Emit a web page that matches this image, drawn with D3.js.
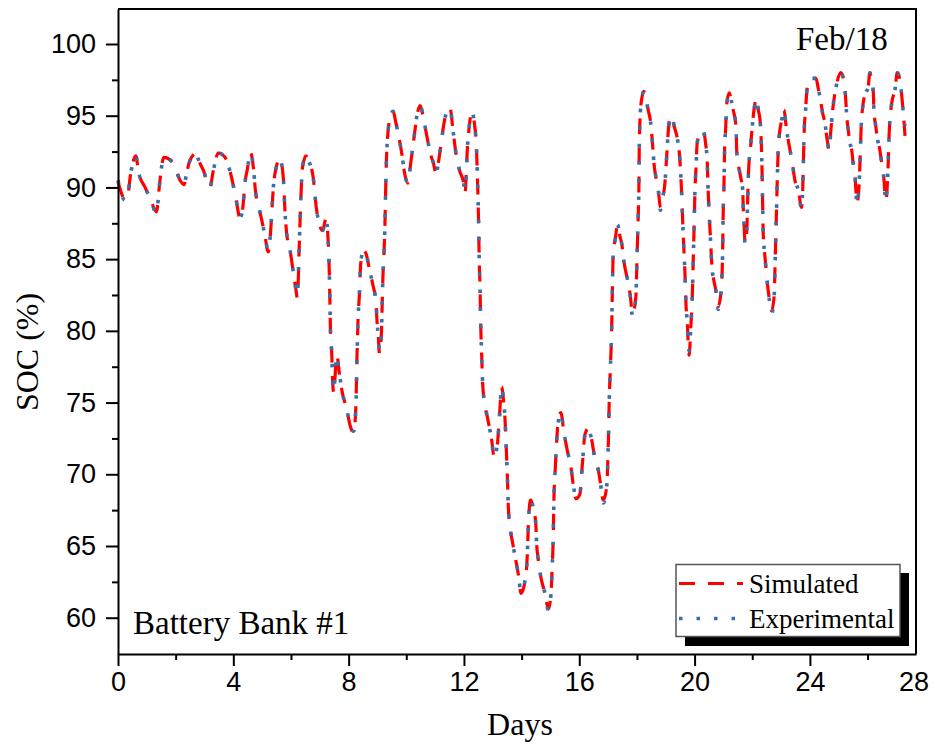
<!DOCTYPE html>
<html>
<head>
<meta charset="utf-8">
<script src="https://cdn.jsdelivr.net/npm/d3@7/dist/d3.min.js"></script>
<style>
  html, body { margin: 0; padding: 0; background: #fff; }
  svg { display: block; }
</style>
</head>
<body>
<svg id="chart" width="935" height="747"></svg>
<script>
// ---------------- DATA ----------------
const days = [0.00,0.24,0.32,0.45,0.62,0.71,0.94,1.12,1.34,1.42,1.49,1.59,1.92,2.15,2.29,2.39,2.50,2.72,2.78,2.96,3.19,3.30,3.48,3.71,3.95,4.10,4.24,4.33,4.41,4.48,4.60,4.71,4.76,4.90,5.02,5.10,5.21,5.29,5.36,5.41,5.62,5.68,5.74,5.79,5.85,5.97,6.08,6.17,6.22,6.29,6.34,6.40,6.52,6.60,6.77,6.89,7.10,7.21,7.29,7.33,7.35,7.37,7.41,7.45,7.48,7.59,7.68,7.79,7.93,8.05,8.18,8.25,8.29,8.33,8.37,8.42,8.51,8.60,8.72,8.83,8.95,8.99,9.03,9.07,9.14,9.17,9.19,9.23,9.26,9.29,9.32,9.43,9.54,9.64,9.84,9.95,10.05,10.16,10.27,10.37,10.48,10.58,10.72,10.86,10.94,11.03,11.17,11.31,11.41,11.52,11.62,11.72,11.86,11.98,12.04,12.08,12.11,12.17,12.28,12.36,12.44,12.46,12.49,12.51,12.53,12.56,12.58,12.61,12.65,12.73,12.81,12.87,12.96,13.04,13.16,13.23,13.31,13.36,13.42,13.48,13.51,13.54,13.60,13.69,13.80,13.88,13.98,14.12,14.20,14.23,14.31,14.40,14.49,14.52,14.58,14.67,14.81,14.93,15.02,15.06,15.10,15.12,15.17,15.22,15.25,15.36,15.47,15.58,15.71,15.79,15.89,16.02,16.10,16.20,16.31,16.43,16.55,16.66,16.74,16.83,16.95,17.01,17.04,17.08,17.12,17.15,17.18,17.24,17.33,17.41,17.47,17.56,17.68,17.76,17.85,17.96,18.01,18.05,18.07,18.08,18.11,18.16,18.24,18.30,18.39,18.47,18.55,18.59,18.66,18.74,18.82,18.87,18.97,19.03,19.09,19.15,19.20,19.30,19.41,19.49,19.55,19.59,19.63,19.67,19.70,19.75,19.78,19.81,19.87,19.92,19.95,19.98,20.01,20.05,20.09,20.16,20.28,20.38,20.44,20.47,20.51,20.56,20.60,20.67,20.74,20.82,20.92,20.97,20.99,21.02,21.04,21.08,21.11,21.20,21.28,21.34,21.44,21.46,21.51,21.60,21.67,21.69,21.72,21.75,21.81,21.84,21.87,21.94,21.99,22.06,22.15,22.21,22.27,22.30,22.34,22.36,22.38,22.44,22.50,22.58,22.67,22.76,22.79,22.82,22.85,22.87,22.90,22.96,23.02,23.10,23.19,23.31,23.39,23.48,23.60,23.71,23.75,23.77,23.80,23.85,23.91,24.03,24.21,24.29,24.35,24.44,24.52,24.60,24.67,24.72,24.79,24.87,24.95,25.07,25.16,25.22,25.25,25.27,25.33,25.39,25.45,25.50,25.56,25.60,25.63,25.70,25.74,25.77,25.85,25.94,26.02,26.08,26.14,26.20,26.22,26.29,26.35,26.41,26.49,26.57,26.60,26.63,26.68,26.72,26.75,26.84,26.95,27.03,27.12,27.16,27.20,27.24,27.30];

const simulated = [90.4,89.2,89.3,91.1,92.2,91.1,90.0,89.2,88.3,89.8,91.1,92.1,91.7,90.5,90.2,91.1,91.9,92.4,92.0,91.2,90.0,91.1,92.4,92.1,90.6,89.1,87.8,88.6,90.4,91.2,92.4,91.1,89.9,88.5,87.4,86.6,85.5,86.8,89.1,90.5,92.0,91.6,90.5,88.4,86.8,85.6,84.1,82.9,82.3,86.1,89.1,91.4,92.2,91.9,90.7,88.4,87.0,87.8,86.3,84.0,82.1,80.0,78.6,76.3,75.7,78.3,77.0,75.6,74.6,73.4,72.9,74.7,78.2,81.0,82.4,84.7,85.6,85.4,84.3,83.3,81.9,80.5,79.6,78.4,80.0,82.4,83.8,85.6,87.5,90.3,92.4,94.8,95.3,94.5,92.4,90.9,90.3,91.8,93.5,95.0,95.7,95.0,93.5,92.2,91.7,91.0,92.5,94.5,95.3,95.5,94.0,92.4,91.1,90.4,89.6,91.0,92.4,94.0,95.2,94.5,92.4,91.2,89.1,87.3,84.9,82.8,80.5,78.6,76.3,74.8,74.0,73.4,72.4,71.3,72.1,74.0,76.1,75.4,74.0,71.2,69.6,67.7,66.3,65.2,64.0,63.1,61.7,62.6,64.5,66.3,68.2,67.7,66.6,65.2,64.0,62.8,61.7,60.6,61.7,63.5,65.9,68.2,70.5,72.4,73.3,74.3,72.9,71.7,70.5,69.3,68.3,68.6,70.5,72.8,73.2,72.4,71.0,70.3,69.3,68.2,69.1,72.4,75.2,77.5,79.8,83.0,85.6,86.3,87.4,86.6,86.1,84.7,83.5,82.6,81.2,82.3,85.6,88.4,90.3,92.6,94.9,96.1,96.7,96.3,95.4,94.6,92.8,91.7,90.7,89.8,88.6,89.1,90.3,92.1,94.0,94.9,95.0,94.2,93.3,91.9,89.6,87.5,85.6,83.8,81.9,80.5,79.1,78.3,80.3,82.4,84.7,87.0,89.6,91.4,93.1,93.6,94.0,93.1,91.7,89.8,88.0,86.1,84.5,83.5,82.8,81.7,82.8,85.2,88.0,90.3,92.6,94.2,95.7,96.6,96.0,95.4,94.2,92.6,91.7,90.7,89.8,88.4,87.3,86.1,87.0,89.1,91.0,92.8,94.0,95.4,96.2,95.4,94.7,93.8,91.2,88.9,86.8,85.2,83.8,82.4,81.4,82.4,84.5,86.8,89.1,90.7,92.6,94.0,94.7,95.4,94.0,92.6,91.7,90.5,89.8,88.6,89.8,91.4,93.8,95.4,97.0,97.6,97.6,96.9,96.3,95.2,94.5,93.3,92.6,93.8,95.4,96.6,97.4,98.0,97.6,96.8,95.9,95.2,94.0,93.1,92.6,91.7,91.0,89.6,88.9,90.0,91.9,93.8,95.9,96.6,97.0,98.0,97.5,96.6,95.4,94.2,93.3,92.8,91.7,90.5,89.6,89.1,90.0,91.9,93.8,95.9,96.8,98.0,97.5,96.9,96.1,95.2,93.6];

const experimental = [90.5,89.1,89.3,91.1,92.2,91.1,90.0,89.2,88.2,89.8,91.1,92.1,91.7,90.5,90.2,91.1,91.9,92.4,92.0,91.2,90.0,91.1,92.4,92.1,90.6,89.1,87.9,88.6,90.4,91.2,92.4,91.1,89.9,88.5,87.4,86.6,85.6,86.8,89.1,90.5,92.0,91.6,90.5,88.4,86.8,85.6,84.1,82.9,82.5,86.1,89.1,91.4,92.2,91.9,90.7,88.4,87.0,87.8,86.3,84.0,82.1,80.0,78.6,76.3,75.8,78.3,77.0,75.6,74.6,73.4,73.0,74.7,78.2,81.0,82.4,84.7,85.6,85.4,84.3,83.3,81.9,80.5,79.6,78.6,80.0,82.4,83.8,85.6,87.5,90.3,92.4,94.8,95.3,94.5,92.4,90.9,90.3,91.8,93.5,95.0,95.7,95.0,93.5,92.2,91.7,91.0,92.5,94.5,95.3,95.5,94.0,92.4,91.1,90.4,89.8,91.0,92.4,94.0,95.2,94.5,92.4,91.2,89.1,87.3,84.9,82.8,80.5,78.6,76.3,74.8,74.0,73.4,72.4,71.2,72.1,74.0,76.1,75.4,74.0,71.2,69.6,67.7,66.3,65.2,64.0,63.1,61.8,62.6,64.5,66.3,68.2,67.7,66.6,65.2,64.0,62.8,61.7,60.5,61.7,63.5,65.9,68.2,70.5,72.4,73.3,74.3,72.9,71.7,70.5,69.3,68.4,68.6,70.5,72.8,73.2,72.4,71.0,70.3,69.3,68.0,69.1,72.4,75.2,77.5,79.8,83.0,85.6,86.3,87.4,86.6,86.1,84.7,83.5,82.6,81.0,82.3,85.6,88.4,90.3,92.6,94.9,96.1,96.7,96.3,95.4,94.6,92.8,91.7,90.7,89.8,88.4,89.1,90.3,92.1,94.0,94.9,95.0,94.2,93.3,91.9,89.6,87.5,85.6,83.8,81.9,80.5,79.2,78.6,80.3,82.4,84.7,87.0,89.6,91.4,93.1,93.6,94.0,93.1,91.7,89.8,88.0,86.1,84.5,83.5,82.8,81.5,82.8,85.2,88.0,90.3,92.6,94.2,95.7,96.6,96.0,95.4,94.2,92.6,91.7,90.7,89.8,88.4,87.3,86.1,87.0,89.1,91.0,92.8,94.0,95.4,96.2,95.4,94.7,93.8,91.2,88.9,86.8,85.2,83.8,82.4,81.2,82.4,84.5,86.8,89.1,90.7,92.6,94.0,94.7,95.4,94.0,92.6,91.7,90.5,89.8,88.5,89.8,91.4,93.8,95.4,97.0,97.6,97.6,96.9,96.3,95.2,94.5,93.3,92.6,93.8,95.4,96.6,97.4,98.0,97.6,96.8,95.9,95.2,94.0,93.1,92.6,91.7,91.0,89.6,88.8,90.0,91.9,93.8,95.9,96.6,97.0,98.0,97.5,96.6,95.4,94.2,93.3,92.8,91.7,90.5,89.6,89.0,90.0,91.9,93.8,95.9,96.8,98.0,97.5,96.9,96.1,95.2,94.3];

const xMajorTicks = [0, 4, 8, 12, 16, 20, 24, 28];
const xMinorTicks = [2, 6, 10, 14, 18, 22, 26];
const yMajorTicks = [60, 65, 70, 75, 80, 85, 90, 95, 100];
const yMinorTicks = [62.5, 67.5, 72.5, 77.5, 82.5, 87.5, 92.5, 97.5];
const seriesNames = ["Simulated", "Experimental"];
const xTitle = "Days";
const yTitle = "SOC (%)";
const monthLabel = "Feb/18";
const bankLabel = "Battery Bank #1";

// ---------------- LAYOUT ----------------
const L = 118, R = 916, T = 9, B = 654;
const svg = d3.select("#chart");
const serif = "'Liberation Serif', 'Times New Roman', serif";
const sans = "'Liberation Sans', Arial, sans-serif";

const x = d3.scaleLinear().domain([0, 27.68]).range([L, R]);
const y = d3.scaleLinear().domain([57.47, 102.44]).range([B, T]);

// series
const pts = (vals) => days.map((d, i) => [d, vals[i]]);
const line = d3.line().x(d => x(d[0])).y(d => y(d[1])).curve(d3.curveMonotoneX);

const colors = ["#ff0000", "#3c6ea8"];
const dashes = ["16,13", "3.5,14"];
const widths = [3.2, 3.6];

svg.append("path").datum(pts(simulated))
  .attr("d", line).attr("fill", "none")
  .attr("stroke", colors[0]).attr("stroke-width", widths[0])
  .attr("stroke-dasharray", dashes[0]);
svg.append("path").datum(pts(experimental))
  .attr("d", line).attr("fill", "none")
  .attr("stroke", colors[1]).attr("stroke-width", widths[1])
  .attr("stroke-dasharray", dashes[1]);

// axes
const xVisible = xMajorTicks.filter(t => x(t) <= R + 0.5);
const gx = svg.append("g").attr("transform", `translate(0,${B})`)
  .call(d3.axisBottom(x).tickValues(xVisible).tickSize(12).tickPadding(6).tickSizeOuter(0).tickFormat(d3.format("d")));
svg.append("g").attr("transform", `translate(0,${B})`)
  .call(d3.axisBottom(x).tickValues(xMinorTicks).tickSize(6).tickFormat("").tickSizeOuter(0))
  .select(".domain").remove();
// last tick label placed at the axis end (as in the original figure)
xMajorTicks.filter(t => x(t) > R + 0.5).forEach(t => {
  gx.append("text").attr("x", R - 2).attr("y", 18).attr("dy", "0.71em")
    .attr("text-anchor", "middle").attr("fill", "#000").text(t);
});

const gy = svg.append("g").attr("transform", `translate(${L},0)`)
  .call(d3.axisLeft(y).tickValues(yMajorTicks).tickSize(12).tickPadding(10).tickSizeOuter(0).tickFormat(d3.format("d")));
svg.append("g").attr("transform", `translate(${L},0)`)
  .call(d3.axisLeft(y).tickValues(yMinorTicks).tickSize(6).tickFormat("").tickSizeOuter(0))
  .select(".domain").remove();

svg.selectAll(".tick line").attr("stroke", "#000").attr("stroke-width", 2);
svg.selectAll(".domain").attr("stroke", "#000").attr("stroke-width", 2);
[gx, gy].forEach(g => g.selectAll("text").attr("font-family", sans).attr("font-size", 27).attr("fill", "#000"));

// frame (top & right)
svg.append("path")
  .attr("d", `M${L},${T}H${R}V${B}`)
  .attr("fill", "none").attr("stroke", "#000").attr("stroke-width", 2);

// titles
svg.append("text").attr("x", (L + R) / 2 + 3).attr("y", 735)
  .attr("text-anchor", "middle").attr("font-family", serif).attr("font-size", 32)
  .text(xTitle);
svg.append("text").attr("transform", `translate(38,352) rotate(-90)`)
  .attr("text-anchor", "middle").attr("font-family", serif).attr("font-size", 32)
  .text(yTitle);
svg.append("text").attr("x", 796).attr("y", 50)
  .attr("font-family", serif).attr("font-size", 33).text(monthLabel);
svg.append("text").attr("x", 133).attr("y", 634)
  .attr("font-family", serif).attr("font-size", 33).text(bankLabel);

// legend
const lg = svg.append("g");
lg.append("rect").attr("x", 685).attr("y", 573).attr("width", 224).attr("height", 73).attr("fill", "#000");
lg.append("rect").attr("x", 676).attr("y", 564.5).attr("width", 224).attr("height", 72)
  .attr("fill", "#fff").attr("stroke", "#555").attr("stroke-width", 1.5);
seriesNames.forEach((name, i) => {
  const cy = 583.5 + i * 35;
  lg.append("line").attr("x1", 679).attr("x2", 743).attr("y1", cy).attr("y2", cy)
    .attr("stroke", colors[i]).attr("stroke-width", widths[i]).attr("stroke-dasharray", dashes[i]);
  lg.append("text").attr("x", 749).attr("y", cy + 9.5)
    .attr("font-family", serif).attr("font-size", 27).text(name);
});
</script>
</body>
</html>
